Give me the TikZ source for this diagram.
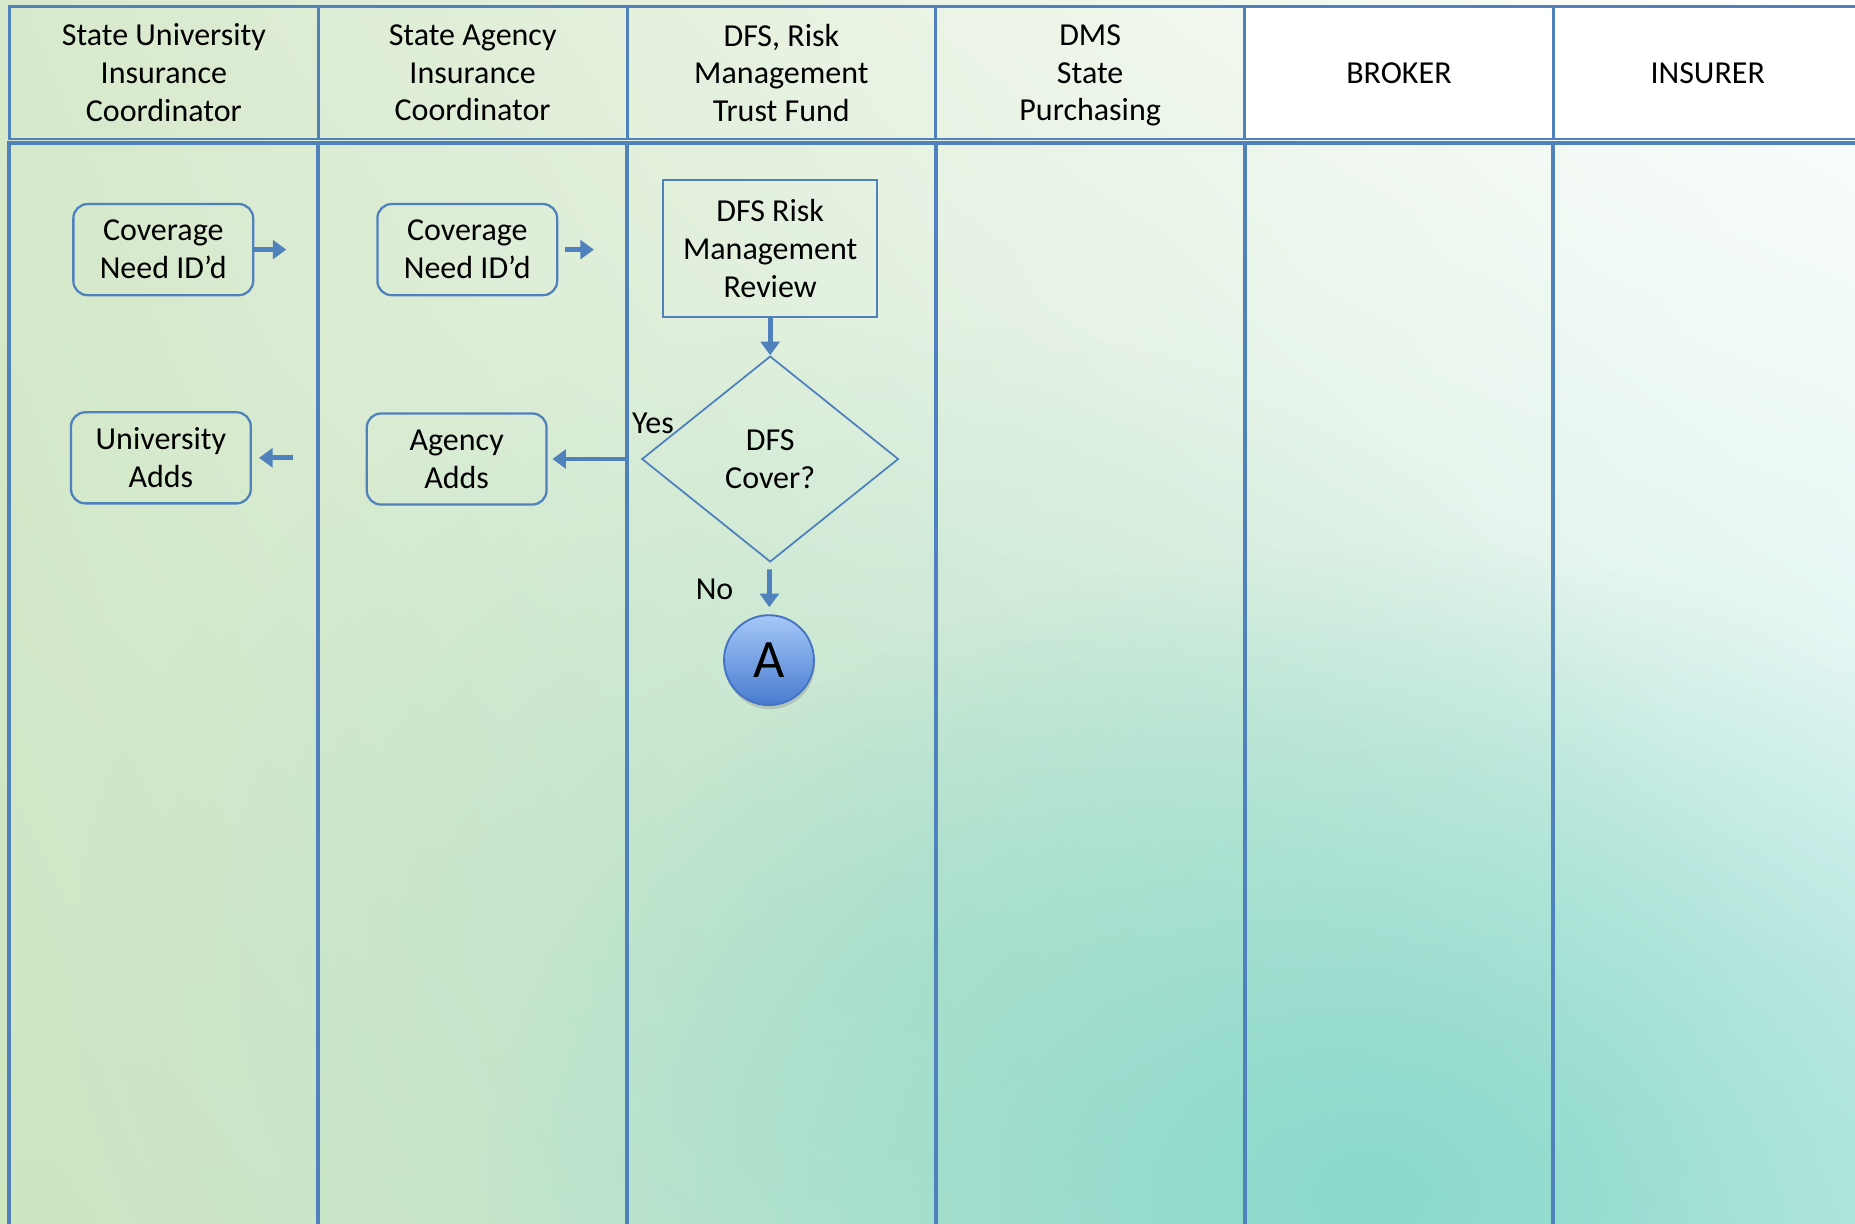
\documentclass[tikz,border=0pt]{standalone}
\usepackage{fontspec}
\setmainfont{Carlito}
\usepackage{xcolor}
\usetikzlibrary{shapes.geometric,arrows.meta,fadings,shadows,shadings}

\definecolor{laneblue}{RGB}{79,129,189}
\definecolor{bgtopleft}{RGB}{215,233,204}
\definecolor{bgbotleft}{RGB}{206,229,194}
\definecolor{bgbotright}{RGB}{205,238,233}
\definecolor{bgteal}{RGB}{136,217,204}
\definecolor{bgmint}{RGB}{178,224,200}
\tikzfading[name=tealglow, inner color=transparent!0, outer color=transparent!100]

\begin{document}
\begin{tikzpicture}[
    x=0.02cm, y=-0.02cm,
    every node/.style={font=\fontsize{15.4}{18.2}\selectfont, align=center},
    header/.style={draw=laneblue, line width=1.4pt, minimum width=5.22cm, minimum height=2.24cm, text depth=0pt},
    lane/.style={draw=laneblue, line width=1.9pt},
    flow/.style={
        draw=laneblue,
        line width=2.3pt, -{Triangle[length=6.5pt,width=9pt]}
    },
    edge label/.style={inner sep=1pt}
]
\tikzstyle{task} = [draw=laneblue, line width=1.1pt, rounded corners=0.24cm, minimum width=3.04cm, minimum height=1.54cm, inner sep=2pt]
\tikzstyle{review} = [draw=laneblue, line width=0.85pt, minimum width=3.62cm, minimum height=2.32cm]
\tikzstyle{decision} = [diamond, draw=laneblue, line width=0.85pt, aspect=1.25, minimum width=4.34cm, minimum height=3.48cm, inner sep=0pt]
\tikzstyle{connector} = [circle, draw={rgb,255:red,68;green,114;blue,196}, line width=0.9pt, minimum size=1.52cm, inner sep=0pt,
    top color={rgb,255:red,166;green,200;blue,248}, bottom color={rgb,255:red,72;green,124;blue,208},
    drop shadow={opacity=0.3, shadow xshift=0.6pt, shadow yshift=-2pt},
    font=\fontsize{26}{30}\selectfont]

\useasboundingbox (0,0) rectangle (1568,1034);

% Background wash
\shade[upper left=bgtopleft, upper right=white, lower left=bgbotleft, lower right=bgbotright] (0,0) rectangle (1568,1034);
\fill[bgmint, path fading=tealglow, fill opacity=0.7] (760,820) ellipse (14cm and 11cm);
\fill[bgteal, path fading=tealglow] (1160,1010) ellipse (15cm and 11cm);

% Swimlanes
\draw[lane] (8,121) rectangle (269,1040) (269,121) rectangle (530,1040) (530,121) rectangle (791,1040)
    (791,121) rectangle (1052,1040) (1052,121) rectangle (1313,1040) (1313,121) rectangle (1574,1040);

% Lane headers
\node[header] (hdruni) at (138.5,61.5) {State University\\Insurance\\Coordinator};
\node[header] (hdragency) at (399.5,61.5) {State Agency\\Insurance\\Coordinator};
\node[header] (hdrdfs) at (660.5,61.5) {DFS, Risk\\Management\\Trust Fund};
\node[header] (hdrdms) at (921.5,61.5) {DMS\\State\\Purchasing};
\node[header, fill=white] (hdrbroker) at (1182.5,61.5) {BROKER};
\node[header, fill=white] (hdrinsurer) at (1443.5,61.5) {INSURER};

% Process steps
\node[task] (unineed) at (138,211) {Coverage\\Need ID'd};
\node[task] (agencyneed) at (395,211) {Coverage\\Need ID'd};
\node[review] (dfsreview) at (651,210) {DFS Risk\\Management\\Review};
\node[decision] (dfscover) at (651,388) {DFS\\Cover?};
\node[task] (uniadds) at (136,387) {University\\Adds};
\node[task] (agencyadds) at (386,388) {Agency\\Adds};
\node[connector] (conA) at (650,558) {A};

% Loose arrow ends
\coordinate (unineedout) at (242,211);
\coordinate (agencyneedout) at (502,211);
\coordinate (uniaddsin) at (248,387);

% Connect steps
\draw[flow] (unineed) -- (unineedout);
\draw[flow, shorten <=3pt] (agencyneed) -- (agencyneedout);
\draw[flow, shorten >=3.4pt] (uniaddsin) -- (uniadds);
\draw[flow, shorten <=0.26cm, shorten >=0.08cm] (dfscover.west) -- (agencyadds.east);
\draw[flow] (dfsreview) -- (dfscover);
\draw[flow, shorten <=0.12cm, shorten >=0.12cm] (dfscover) -- (conA);

% Branch labels
\node[edge label] (yeslbl) at (552,358) {Yes};
\node[edge label] (nolbl) at (604,498) {No};
\end{tikzpicture}
\end{document}
